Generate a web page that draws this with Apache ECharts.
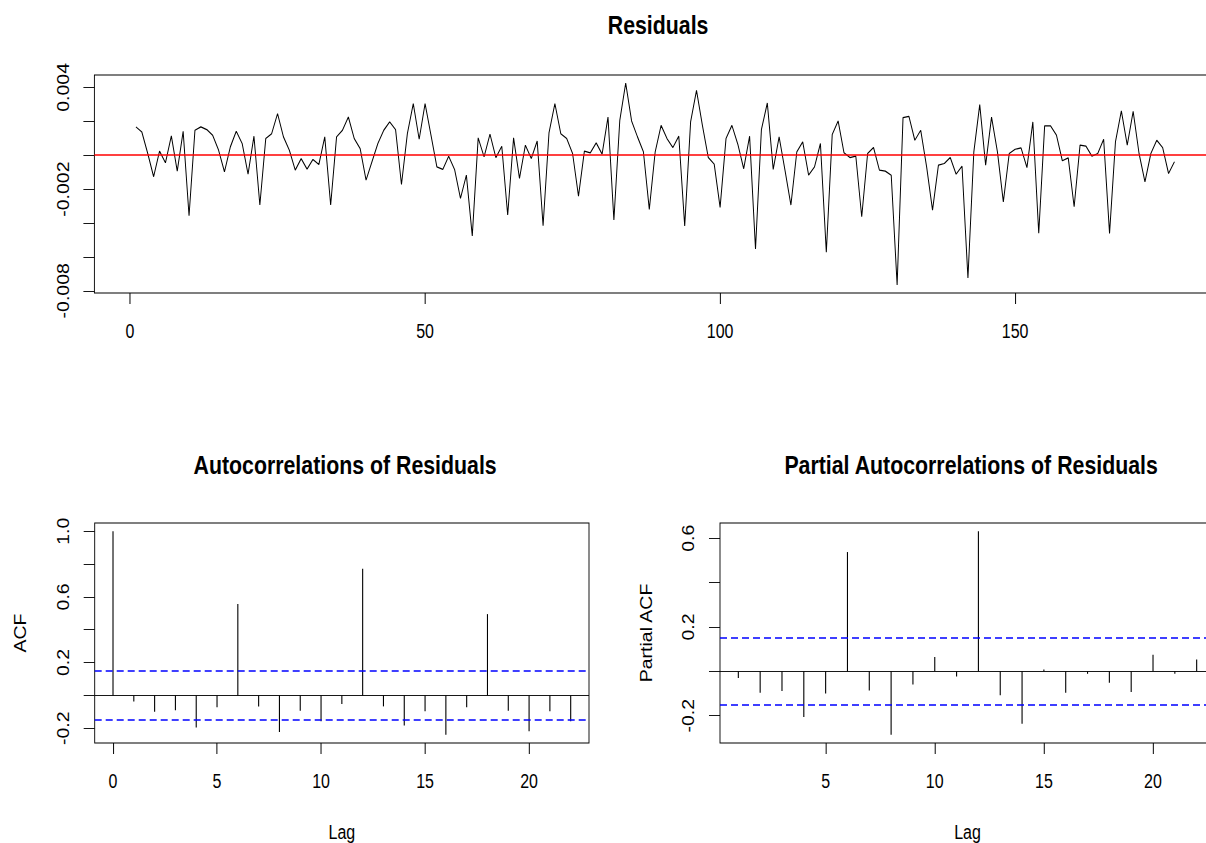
<!DOCTYPE html>
<html>
<head>
<meta charset="utf-8">
<script src="https://cdn.jsdelivr.net/npm/echarts@6/dist/echarts.min.js"></script>
<style>
  html, body { margin: 0; padding: 0; background: #fff; }
  #wrap { width: 1206px; height: 843px; overflow: hidden; position: relative; }
  #chart { height: 843px; transform-origin: 0 0; }
</style>
</head>
<body>
<div id="wrap"><div id="chart"></div></div>
<script>
// residual series, t = 1..177
const residuals = [
  0.00167, 0.00137, 0.00010, -0.00127, 0.00024, -0.00045, 0.00114, -0.00094, 0.00141, -0.00357,
  0.00147, 0.00167, 0.00151, 0.00118, 0.00030, -0.00098, 0.00049, 0.00141, 0.00069, -0.00112,
  0.00112, -0.00294, 0.00098, 0.00127, 0.00245, 0.00108, 0.00029, -0.00088, -0.00020, -0.00082,
  -0.00025, -0.00055, 0.00108, -0.00294, 0.00108, 0.00147, 0.00225, 0.00098, 0.00039, -0.00147,
  -0.00039, 0.00069, 0.00147, 0.00196, 0.00151, -0.00173, 0.00127, 0.00304, 0.00094, 0.00304,
  0.00118, -0.00069, -0.00084, -0.00006, -0.00084, -0.00255, -0.00118, -0.00476, 0.00102, -0.00010,
  0.00124, -0.00014, 0.00053, -0.00353, 0.00102, -0.00137, 0.00059, -0.00020, 0.00084, -0.00416,
  0.00131, 0.00304, 0.00127, 0.00098, 0.00010, -0.00241, 0.00024, 0.00014, 0.00073, 0.00006,
  0.00225, -0.00382, 0.00206, 0.00425, 0.00202, 0.00108, 0.00020, -0.00320, 0.00020, 0.00176,
  0.00098, 0.00045, 0.00112, -0.00418, 0.00196, 0.00382, 0.00176, -0.00014, -0.00053, -0.00308,
  0.00098, 0.00176, 0.00065, -0.00080, 0.00112, -0.00553, 0.00151, 0.00308, -0.00084, 0.00108,
  -0.00090, -0.00294, 0.00020, 0.00078, -0.00118, -0.00069, 0.00069, -0.00573, 0.00122, 0.00202,
  0.00014, -0.00014, -0.00006, -0.00363, 0.00010, 0.00045, -0.00088, -0.00094, -0.00118, -0.00765,
  0.00222, 0.00229, 0.00088, 0.00147, -0.00069, -0.00324, -0.00059, -0.00049, -0.00014, -0.00112,
  -0.00065, -0.00725, 0.00020, 0.00298, -0.00059, 0.00225, 0.00020, -0.00275, 0.00010, 0.00035,
  0.00043, -0.00073, 0.00196, -0.00461, 0.00173, 0.00173, 0.00118, -0.00033, -0.00016, -0.00304,
  0.00059, 0.00053, -0.00006, 0.00010, 0.00094, -0.00461, 0.00078, 0.00261, 0.00059, 0.00259,
  0.00010, -0.00157, 0.00010, 0.00088, 0.00045, -0.00108, -0.00039
];

const acfLags = [0, 1, 2, 3, 4, 5, 6, 7, 8, 9, 10, 11, 12, 13, 14, 15, 16, 17, 18, 19, 20, 21, 22];
const acfValues = [1.0, -0.037, -0.10, -0.09, -0.195, -0.073, 0.556, -0.067, -0.223, -0.093, -0.158,
  -0.053, 0.772, -0.067, -0.183, -0.097, -0.24, -0.073, 0.495, -0.093, -0.219, -0.097, -0.158];

const pacfLags = [1, 2, 3, 4, 5, 6, 7, 8, 9, 10, 11, 12, 13, 14, 15, 16, 17, 18, 19, 20, 21, 22];
const pacfValues = [-0.03, -0.096, -0.089, -0.206, -0.10, 0.538, -0.086, -0.286, -0.059, 0.065, -0.023,
  0.632, -0.108, -0.236, 0.008, -0.096, -0.011, -0.051, -0.093, 0.075, -0.011, 0.053];

const confBound = 0.147;

const resXTicks = [0, 50, 100, 150];
const resYTicks = [0.004, 0.002, 0, -0.002, -0.004, -0.006, -0.008];
const resYLabels = [0.004, -0.002, -0.008];
const acfXTicks = [0, 5, 10, 15, 20];
const acfYTicks = [-0.2, 0, 0.2, 0.4, 0.6, 0.8, 1.0];
const acfYLabels = [-0.2, 0.2, 0.6, 1.0];
const pacfXTicks = [5, 10, 15, 20];
const pacfYTicks = [-0.2, 0, 0.2, 0.4, 0.6];
const pacfYLabels = [-0.2, 0.2, 0.6];

// the original picture is squeezed sideways, so draw wider and squeeze with css
const SX = 0.82;
const X = v => v / SX;

const dom = document.getElementById('chart');
// a bit wider than the window: the right-hand boxes run off the edge
dom.style.width = X(1240) + 'px';
dom.style.transform = 'scaleX(' + SX + ')';

const FONT = 'Liberation Sans';
const labelStyle = { fontFamily: FONT, fontSize: 19.5, color: '#000' };
const titleStyle = { fontFamily: FONT, fontSize: 26, fontWeight: 'bold', color: '#000' };

const chart = echarts.init(dom, null, { renderer: 'svg' });

function xAxisOf(gridIndex, min, max, ticks, name) {
  return {
    type: 'value', gridIndex, min, max,
    name, nameLocation: 'middle', nameGap: 79,
    nameTextStyle: labelStyle,
    axisLine: { show: false, onZero: false },
    axisTick: { show: true, inside: false, length: 11, customValues: ticks,
      lineStyle: { color: '#000', width: 1.2 } },
    axisLabel: { ...labelStyle, margin: 28, customValues: ticks },
    splitLine: { show: false }
  };
}

function yAxisOf(gridIndex, min, max, ticks, labels, digits, name) {
  return {
    type: 'value', gridIndex, min, max,
    name, nameLocation: 'middle', nameGap: 80, nameRotate: 90,
    nameTextStyle: labelStyle,
    axisLine: { show: false, onZero: false },
    axisTick: { show: true, inside: false, length: X(11), customValues: ticks,
      lineStyle: { color: '#000' } },
    axisLabel: { ...labelStyle, margin: 28, rotate: 90, customValues: labels,
      formatter: v => v.toFixed(digits) },
    splitLine: { show: false }
  };
}

function hLines(bound) {
  const dash = { color: '#0000ff', width: 1.5, type: [X(7), X(4)] };
  return {
    silent: true, symbol: 'none', label: { show: false }, animation: false,
    data: [
      { yAxis: 0, lineStyle: { color: '#000', width: 1, type: 'solid' } },
      { yAxis: bound, lineStyle: dash },
      { yAxis: -bound, lineStyle: dash }
    ]
  };
}

const gridBox = { show: true, borderColor: '#000', borderWidth: 1.1, backgroundColor: 'transparent' };

const option = {
  animation: false,
  backgroundColor: '#fff',
  title: [
    { text: 'Residuals', left: X(654), top: 7, textAlign: 'center', textStyle: titleStyle },
    { text: 'Autocorrelations of Residuals', left: X(341), top: 447, textAlign: 'center', textStyle: titleStyle },
    { text: 'Partial Autocorrelations of Residuals', left: X(967), top: 447, textAlign: 'center', textStyle: titleStyle }
  ],
  grid: [
    { left: X(94.4), top: 75, width: X(1121.6), height: 218, ...gridBox },
    { left: X(94.7), top: 523, width: X(494.3), height: 220, ...gridBox },
    { left: X(720), top: 523, width: X(495), height: 220, ...gridBox }
  ],
  xAxis: [
    xAxisOf(0, -6.04, 184.04, resXTicks, ''),
    xAxisOf(1, -0.88, 22.88, acfXTicks, 'Lag'),
    xAxisOf(2, 0.16, 22.84, pacfXTicks, 'Lag')
  ],
  yAxis: [
    yAxisOf(0, -0.00813, 0.00473, resYTicks, resYLabels, 3, ''),
    yAxisOf(1, -0.29, 1.05, acfYTicks, acfYLabels, 1, 'ACF'),
    yAxisOf(2, -0.323, 0.669, pacfYTicks, pacfYLabels, 1, 'Partial ACF')
  ],
  series: [
    {
      type: 'line', xAxisIndex: 0, yAxisIndex: 0,
      data: residuals.map((v, i) => [i + 1, v]),
      showSymbol: false, symbol: 'none',
      lineStyle: { color: '#000', width: 1.2 },
      markLine: {
        silent: true, symbol: 'none', label: { show: false },
        data: [{ yAxis: 0 }],
        lineStyle: { color: '#ff0000', width: 1.5, type: 'solid' }
      },
      z: 3
    },
    {
      type: 'bar', xAxisIndex: 1, yAxisIndex: 1,
      data: acfLags.map((l, i) => [l, acfValues[i]]),
      barWidth: X(1.1),
      itemStyle: { color: '#000' },
      markLine: hLines(confBound)
    },
    {
      type: 'bar', xAxisIndex: 2, yAxisIndex: 2,
      data: pacfLags.map((l, i) => [l, pacfValues[i]]),
      barWidth: X(1.1),
      itemStyle: { color: '#000' },
      markLine: hLines(confBound)
    }
  ]
};

chart.setOption(option);
</script>
</body>
</html>
